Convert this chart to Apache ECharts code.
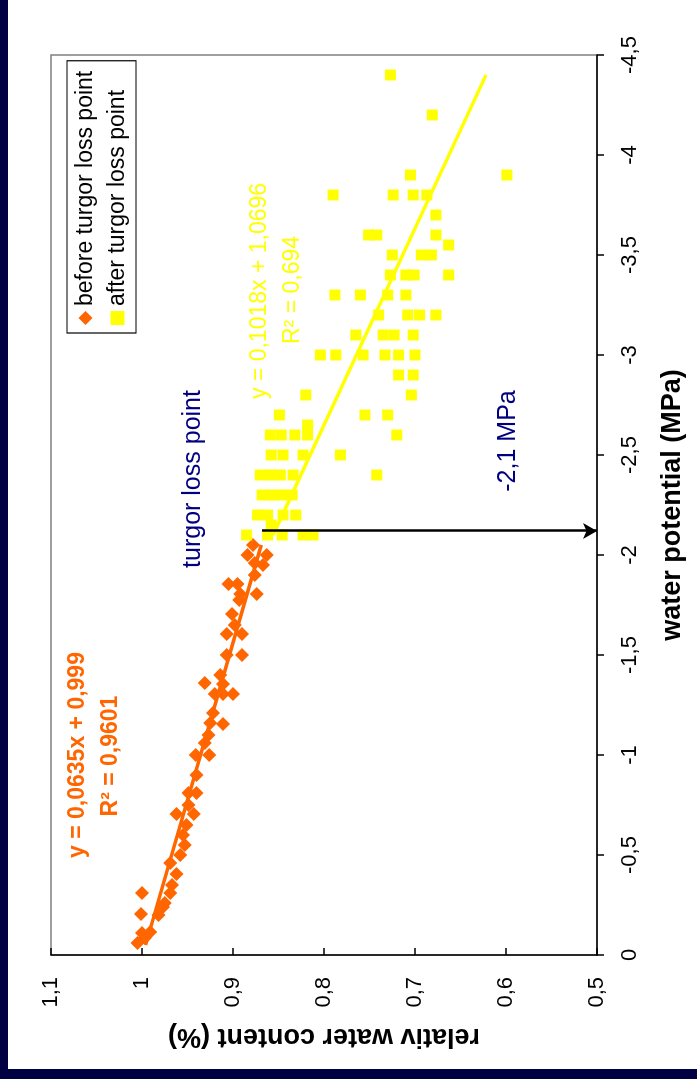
<!DOCTYPE html>
<html><head><meta charset="utf-8">
<script src="https://cdn.jsdelivr.net/npm/echarts@6/dist/echarts.min.js"></script>
<style>
html,body{margin:0;padding:0;background:#fff;overflow:hidden;width:697px;height:1079px;}
#chart{position:absolute;left:0;top:0;width:1079px;height:697px;transform-origin:0 0;transform:translateY(1079px) rotate(-90deg);}
</style></head><body><div id="chart"></div>
<script>
// water potential (MPa) and relative water content, before turgor loss point
const beforePotential = [-0.06,-0.085,-0.11,-0.115,-0.2,-0.205,-0.24,-0.26,-0.31,-0.31,-0.35,-0.405,-0.46,-0.5,-0.55,-0.6,-0.65,-0.705,-0.705,-0.75,-0.81,-0.81,-0.9,-1.0,-1.0,-1.06,-1.1,-1.155,-1.16,-1.21,-1.305,-1.305,-1.305,-1.355,-1.36,-1.4,-1.5,-1.5,-1.605,-1.605,-1.65,-1.705,-1.775,-1.805,-1.805,-1.855,-1.855,-1.9,-1.95,-1.96,-2.0,-2.0,-2.05];
const beforeRWC = [1.005,0.997,1.000,0.991,0.982,1.001,0.977,0.975,1.000,0.969,0.967,0.962,0.969,0.958,0.953,0.955,0.951,0.962,0.943,0.949,0.949,0.940,0.940,0.941,0.926,0.931,0.927,0.911,0.925,0.922,0.920,0.911,0.900,0.911,0.931,0.914,0.907,0.890,0.907,0.890,0.898,0.901,0.893,0.892,0.874,0.905,0.895,0.876,0.867,0.876,0.884,0.863,0.878];
// after turgor loss point
const afterPotential = [-2.1,-2.1,-2.1,-2.1,-2.1,-2.15,-2.2,-2.2,-2.2,-2.2,-2.3,-2.3,-2.3,-2.3,-2.4,-2.4,-2.4,-2.4,-2.4,-2.5,-2.5,-2.5,-2.5,-2.6,-2.6,-2.6,-2.6,-2.6,-2.65,-2.7,-2.7,-2.7,-2.8,-2.8,-2.9,-2.9,-3.0,-3.0,-3.0,-3.0,-3.0,-3.0,-3.1,-3.1,-3.1,-3.1,-3.2,-3.2,-3.2,-3.2,-3.3,-3.3,-3.3,-3.3,-3.4,-3.4,-3.4,-3.4,-3.5,-3.5,-3.5,-3.55,-3.6,-3.6,-3.6,-3.7,-3.8,-3.8,-3.8,-3.8,-3.9,-3.9,-4.2,-4.4];
const afterRWC = [0.885,0.862,0.846,0.823,0.812,0.858,0.873,0.862,0.845,0.831,0.868,0.857,0.846,0.835,0.870,0.859,0.848,0.834,0.742,0.858,0.845,0.823,0.782,0.859,0.847,0.832,0.818,0.720,0.818,0.849,0.755,0.730,0.820,0.704,0.718,0.702,0.804,0.787,0.757,0.733,0.718,0.700,0.765,0.735,0.723,0.702,0.740,0.708,0.695,0.677,0.788,0.760,0.730,0.710,0.727,0.710,0.701,0.663,0.725,0.693,0.682,0.663,0.751,0.742,0.677,0.677,0.790,0.724,0.702,0.687,0.705,0.599,0.681,0.727];
// trend line end points
const beforeTrendPotential = [-0.05, -2.05];
const beforeTrendRWC = [0.996, 0.869];
const afterTrendPotential = [-2.1, -4.4];
const afterTrendRWC = [0.856, 0.622];
// turgor loss point arrow
const turgorPotential = -2.12;
const turgorRWC = 0.868;
// tick labels
const potentialTickLabels = ['0','-0,5','-1','-1,5','-2','-2,5','-3','-3,5','-4','-4,5'];
const rwcTickLabels = ['0,5','0,6','0,7','0,8','0,9','1','1,1'];
const seriesNames = ['before turgor loss point','after turgor loss point'];
const beforeEquation = ['y = 0,0635x + 0,999','R² = 0,9601'];
const afterEquation = ['y = 0,1018x + 1,0696','R² = 0,694'];

const FONT = '"Liberation Sans", Arial, sans-serif';
const ORANGE = '#FF6600', YELLOW = '#FFFF00', NAVY = '#000080';
const zip = (a, b) => a.map((v, i) => [v, b[i]]);

const chart = echarts.init(document.getElementById('chart'), null, {renderer: 'canvas'});
chart.setOption({
  backgroundColor: '#ffffff',
  animation: false,
  textStyle: {fontFamily: FONT},
  grid: {left: 124, top: 51, width: 900, height: 546, show: true, borderColor: '#808080', borderWidth: 1.5, backgroundColor: 'transparent'},
  xAxis: {
    type: 'value', min: -4.5, max: 0, interval: 0.5, inverse: true,
    axisLine: {show: true, onZero: false, lineStyle: {color: '#000', width: 1.5}},
    axisTick: {show: true, inside: false, length: 7, lineStyle: {color: '#000', width: 1.5}},
    axisLabel: {color: '#000', fontSize: 22, fontFamily: FONT, margin: 22,
      formatter: v => potentialTickLabels[Math.round(-v / 0.5)]},
    splitLine: {show: false},
    name: 'water potential (MPa)', nameLocation: 'middle', nameGap: 62,
    nameTextStyle: {color: '#000', fontSize: 27, fontWeight: 'bold', fontFamily: FONT}
  },
  yAxis: {
    type: 'value', min: 0.5, max: 1.1, interval: 0.1,
    axisLine: {show: true, onZero: false, lineStyle: {color: '#000', width: 1.5}},
    axisTick: {show: true, inside: true, length: 7, lineStyle: {color: '#000', width: 1.5}},
    axisLabel: {color: '#000', fontSize: 22, fontFamily: FONT, margin: 22,
      formatter: v => rwcTickLabels[Math.round((v - 0.5) / 0.1)]},
    splitLine: {show: false},
    name: 'relativ water content (%)', nameLocation: 'middle', nameGap: 68,
    nameTextStyle: {color: '#000', fontSize: 27, fontWeight: 'bold', fontFamily: FONT}
  },
  legend: {
    left: 746, top: 67, orient: 'vertical',
    borderColor: '#000', borderWidth: 1.2, backgroundColor: '#fff',
    padding: [7, 10, 7, 8], itemGap: 9, itemWidth: 14, itemHeight: 14,
    textStyle: {color: '#000', fontSize: 23, fontFamily: FONT},
    data: [{name: seriesNames[0], icon: 'diamond'}, {name: seriesNames[1], icon: 'rect'}]
  },
  series: [
    {name: seriesNames[0], type: 'scatter', symbol: 'diamond', symbolSize: 14,
      itemStyle: {color: ORANGE, opacity: 1}, data: zip(beforePotential, beforeRWC), z: 2},
    {name: seriesNames[1], type: 'scatter', symbol: 'rect', symbolSize: 11,
      itemStyle: {color: YELLOW, opacity: 1}, data: zip(afterPotential, afterRWC), z: 2},
    {name: 'trend before', type: 'line', showSymbol: false, symbol: 'none', z: 3,
      lineStyle: {color: ORANGE, width: 3.5}, data: zip(beforeTrendPotential, beforeTrendRWC)},
    {name: 'trend after', type: 'line', showSymbol: false, symbol: 'none', z: 3,
      lineStyle: {color: YELLOW, width: 3.5}, data: zip(afterTrendPotential, afterTrendRWC),
      markLine: {silent: true, symbol: ['none', 'arrow'], symbolSize: [12, 14],
        lineStyle: {color: '#000', width: 2.5, type: 'solid'}, label: {show: false},
        data: [[{coord: [turgorPotential, turgorRWC]}, {coord: [turgorPotential, 0.5]}]]}}
  ],
  graphic: [
    {type: 'rect', shape: {x: 0, y: 0, width: 1079, height: 8}, style: {fill: '#000042'}, silent: true},
    {type: 'rect', shape: {x: 0, y: 0, width: 10, height: 697}, style: {fill: '#000042'}, silent: true},
    {type: 'text', x: 600, y: 193, style: {text: 'turgor loss point', fill: NAVY, font: '25px ' + FONT, align: 'center', verticalAlign: 'middle'}},
    {type: 'text', x: 638, y: 508, style: {text: '-2,1 MPa', fill: NAVY, font: '25px ' + FONT, align: 'center', verticalAlign: 'middle'}},
    {type: 'text', x: 324, y: 78, style: {text: beforeEquation[0], fill: ORANGE, font: 'bold 23px ' + FONT, align: 'center', verticalAlign: 'middle'}},
    {type: 'text', x: 323, y: 111, style: {text: beforeEquation[1], fill: ORANGE, font: 'bold 23px ' + FONT, align: 'center', verticalAlign: 'middle'}},
    {type: 'text', x: 788, y: 260, style: {text: afterEquation[0], fill: YELLOW, font: '23px ' + FONT, align: 'center', verticalAlign: 'middle'}},
    {type: 'text', x: 789, y: 293, style: {text: afterEquation[1], fill: YELLOW, font: '23px ' + FONT, align: 'center', verticalAlign: 'middle'}}
  ]
});
</script></body></html>
